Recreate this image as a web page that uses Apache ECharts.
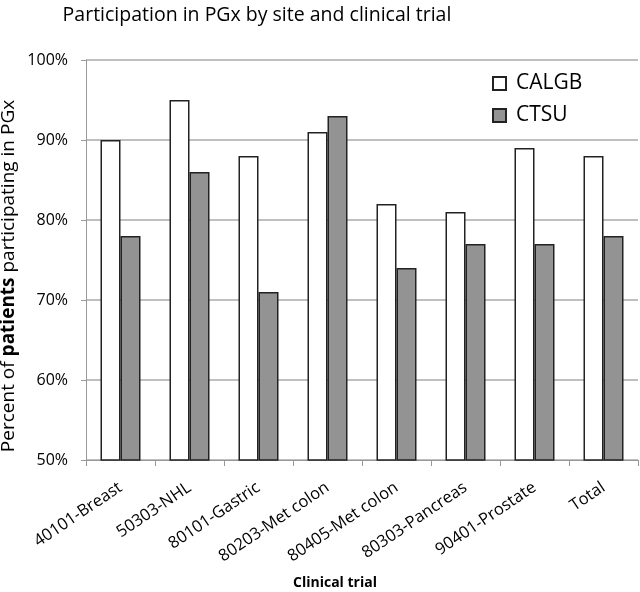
<!DOCTYPE html>
<html>
<head>
<meta charset="utf-8">
<script src="https://cdn.jsdelivr.net/npm/echarts@6/dist/echarts.min.js"></script>
<style>
html,body{margin:0;padding:0;background:#fff;}
#chart{width:640px;height:592px;}
</style>
</head>
<body>
<div id="chart"></div>
<script>
const categories = ['40101-Breast','50303-NHL','80101-Gastric','80203-Met colon','80405-Met colon','80303-Pancreas','90401-Prostate','Total'];
const calgb = [90, 95, 88, 91, 82, 81, 89, 88];
const ctsu = [78, 86, 71, 93, 74, 77, 77, 78];
const yTicks = [50, 60, 70, 80, 90, 100];

const FONT = 'Open Sans';
const chart = echarts.init(document.getElementById('chart'), null, {renderer:'canvas'});
chart.setOption({
  animation: false,
  backgroundColor: '#fff',
  textStyle: {fontFamily: FONT, color: '#000'},
  title: {
    text: 'Participation in PGx by site and clinical trial',
    left: 252, top: 0, textAlign: 'center',
    textStyle: {fontFamily: FONT, fontSize: 19.5, fontWeight: 'normal', color: '#000'}
  },
  legend: {
    orient: 'vertical', left: 487, top: 68,
    itemWidth: 13, itemHeight: 13, itemGap: 11, icon: 'rect',
    textStyle: {fontFamily: FONT, fontSize: 21, color: '#000', padding: [0,0,0,5]},
    data: ['CALGB','CTSU']
  },
  grid: {left: 86, right: 2, top: 60, bottom: 132, containLabel: false},
  xAxis: {
    type: 'category', data: categories,
    axisLine: {lineStyle: {color: '#999', width: 1}},
    axisTick: {show: true, length: 6, lineStyle: {color: '#999'}},
    axisLabel: {rotate: 34, fontSize: 16.5, color: '#000', margin: 26, interval: 0, fontFamily: FONT}
  },
  yAxis: {
    type: 'value', min: yTicks[0], max: yTicks[yTicks.length-1], interval: 10,
    axisLine: {show: true, lineStyle: {color: '#999', width: 1}},
    axisTick: {show: true, length: 5, lineStyle: {color: '#999'}},
    axisLabel: {formatter: v => v + '%', fontSize: 16, color: '#000', margin: 18, fontFamily: FONT},
    splitLine: {lineStyle: {color: '#aaa', width: 1.5}}
  },
  graphic: [{
    type: 'text', x: 9, y: 276, rotation: Math.PI/2,
    style: {
      text: '{n|Percent of }{b|patients}{n| participating in PGx}',
      align: 'center', verticalAlign: 'middle',
      rich: {
        n: {fontFamily: FONT, fontSize: 19, fill: '#000'},
        b: {fontFamily: FONT, fontSize: 19, fontWeight: 'bold', fill: '#000'}
      }
    }
  }, {
    type: 'text', x: 335, y: 583,
    style: {
      text: 'Clinical trial', align: 'center', verticalAlign: 'middle',
      fontFamily: FONT, fontSize: 14, fontWeight: 'bold', fill: '#000'
    }
  }],
  series: [
    {name: 'CALGB', type: 'bar', data: calgb, barWidth: 20, barGap: '0%',
     itemStyle: {color: '#fff', borderColor: '#222', borderWidth: 1.5}},
    {name: 'CTSU', type: 'bar', data: ctsu, barWidth: 20, barGap: '0%',
     itemStyle: {color: '#939393', borderColor: '#222', borderWidth: 1.5}}
  ]
});
</script>
</body>
</html>
